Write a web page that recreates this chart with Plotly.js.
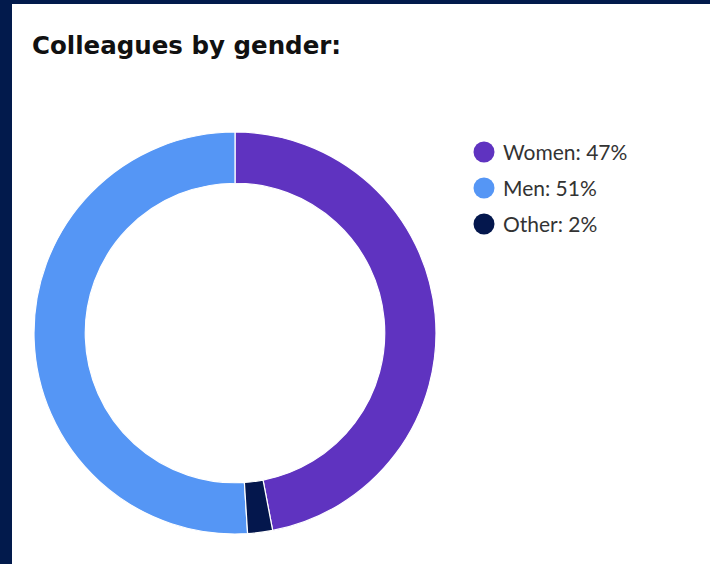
<!DOCTYPE html>
<html>
<head>
<meta charset="utf-8">
<script src="https://cdn.plot.ly/plotly-3.0.1.min.js"></script>
<style>
  html, body { margin: 0; padding: 0; background: #021a4c; width: 710px; height: 564px; overflow: hidden; }
  #chart { position: absolute; left: 12px; top: 4px; width: 698px; height: 560px; background: #ffffff; }
</style>
</head>
<body>
<div id="chart"></div>
<script>
const categories = ["Women", "Men", "Other"];
const shares = [47, 51, 2];
const colors = ["#5f33c0", "#5596f5", "#04174d"];
const legendLabels = categories.map((c, i) => c + ": " + shares[i] + "%");

const W = 698, H = 560;
const cx = 223, cy = 329, R = 201;

const trace = {
  type: "pie",
  labels: categories,
  values: shares,
  sort: false,
  direction: "counterclockwise",
  rotation: 0,
  hole: 0.745,
  textinfo: "none",
  hoverinfo: "label+percent",
  showlegend: false,
  marker: { colors: colors, line: { color: "#ffffff", width: 1.2 } },
  domain: { x: [(cx - R) / W, (cx + R) / W], y: [(H - cy - R) / H, (H - cy + R) / H] }
};

const legX = 489, legCircleX = 472, legY0 = 148, legStep = 36;
const annotations = [];
const shapes = [];
legendLabels.forEach((t, i) => {
  const yy = 1 - (legY0 + i * legStep) / H;
  annotations.push({
    text: t, xref: "paper", yref: "paper", x: legX / W, y: yy,
    xanchor: "left", yanchor: "middle", showarrow: false,
    font: { family: "Lato, 'Noto Sans', sans-serif", size: 21, color: "#333333" }
  });
  shapes.push({
    type: "circle", xref: "paper", yref: "paper", xsizemode: "pixel", ysizemode: "pixel",
    xanchor: legCircleX / W, yanchor: yy, x0: -10.5, x1: 10.5, y0: -10.5, y1: 10.5,
    fillcolor: colors[i], line: { width: 0 }
  });
});

const layout = {
  width: W, height: H,
  margin: { l: 0, r: 0, t: 0, b: 0 },
  paper_bgcolor: "#ffffff",
  title: {
    text: "<b>Colleagues by gender:</b>",
    x: 20 / W, xanchor: "left", xref: "paper",
    y: 1 - 41 / H, yanchor: "middle", yref: "paper",
    font: { family: "'DejaVu Sans', sans-serif", size: 24.5, color: "#111111" }
  },
  annotations: annotations,
  shapes: shapes
};

Plotly.newPlot("chart", [trace], layout, { displayModeBar: false, staticPlot: true });
</script>
</body>
</html>
